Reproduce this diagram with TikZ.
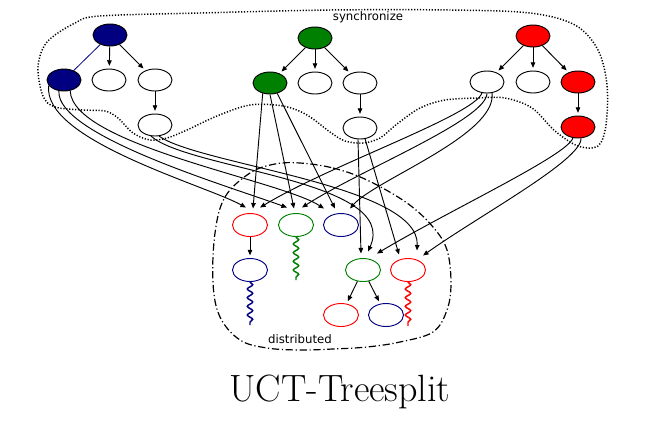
\documentclass[tikz,border=0pt]{standalone}
\usepackage{fontspec}
\newfontfamily\dvs{DejaVu Sans}
\usetikzlibrary{arrows.meta,decorations.pathmorphing,shapes.geometric,calc}
\definecolor{navyc}{RGB}{0,0,128}
\definecolor{greenc}{RGB}{0,128,0}
\definecolor{redc}{RGB}{255,0,0}
\begin{document}
\begin{tikzpicture}[x=0.75pt,y=-0.75pt,
  nd/.style={ellipse,draw,line width=0.7pt,minimum width=25.5pt,minimum height=16.5pt,inner sep=0pt},
  bnd/.style={nd,fill=navyc},
  gnd/.style={nd,fill=greenc},
  rnd/.style={nd,fill=redc},
  bot/.style={ellipse,draw,line width=0.7pt,minimum width=26.25pt,minimum height=17.25pt,inner sep=0pt},
  tip/.style={-{Triangle[length=4.2pt,width=3.4pt]}},
  arr/.style={tip,line width=0.7pt,shorten >=2pt},
  lng/.style={tip,line width=0.7pt},
  snk/.style={decorate,decoration={snake,amplitude=2pt,segment length=6.5pt},line width=1.1pt},
  lbl/.style={font=\dvs\fontsize{8.8}{10}\selectfont,inner sep=0pt}
]
\useasboundingbox (0,0) rectangle (665,437);

% synchronize region
\draw[line width=1.1pt,dash pattern=on 0.9pt off 1.3pt] plot[smooth cycle,tension=0.55] coordinates {
 (100,16) (200,13) (330,10) (450,10) (530,13) (575,25) (598,50) (607,85) (606,125)
 (598,146) (578,146) (555,131) (532,108) (505,98) (477,98) (445,100) (420,108)
 (397,124) (380,138) (363,143) (345,141) (330,132) (307,115) (283,106) (250,105)
 (217,116) (187,130) (167,138) (150,140) (133,133) (118,118) (105,111) (83,110)
 (55,107) (43,96) (38,67) (47,42) (75,23)};
\node[lbl] (sync) at (368,17) {synchronize};

% distributed region
\draw[line width=0.9pt,dash pattern=on 5.5pt off 2pt on 0.9pt off 2pt] plot[smooth cycle,tension=0.6] coordinates {
 (300,163) (333,168) (367,180) (407,203) (433,227) (447,250) (451,283) (447,310)
 (433,332) (400,342) (367,347) (333,349) (300,350) (267,348) (240,340) (220,317)
 (213,283) (215,233) (225,197) (250,173) (275,164)};
\node[lbl] (dist) at (300,339) {distributed};

% top trees
\node[bnd] (br) at (110,35) {};
\node[bnd] (bc) at (64,80) {};
\node[nd] (bw1) at (109,80) {};
\node[nd] (bw2) at (155,80) {};
\node[nd] (bg) at (155,125) {};

\node[gnd] (gr) at (315,38) {};
\node[gnd] (gc) at (270,83) {};
\node[nd] (gw1) at (315,83) {};
\node[nd] (gw2) at (360,83) {};
\node[nd] (gg) at (360,128) {};

\node[rnd] (rr) at (533,36) {};
\node[nd] (rw) at (487,82) {};
\node[nd] (rw2) at (533,82) {};
\node[rnd] (rc) at (578,82) {};
\node[rnd] (rg) at (578,127) {};

\draw[navyc,line width=0.6pt] (br) -- (bc);
\draw[arr] (br) -- (bw1);
\draw[arr] (br) -- (bw2);
\draw[arr] (bw2) -- (bg);
\draw[arr] (gr) -- (gc);
\draw[arr] (gr) -- (gw1);
\draw[arr] (gr) -- (gw2);
\draw[arr] (gw2) -- (gg);
\draw[arr] (rr) -- (rw);
\draw[arr] (rr) -- (rw2);
\draw[arr] (rr) -- (rc);
\draw[arr] (rc) -- (rg);

% bottom nodes
\node[bot,draw=redc] (A1) at (250,225) {};
\node[bot,draw=greenc] (A2) at (296,225) {};
\node[bot,draw=navyc] (A3) at (341,225) {};
\node[bot,draw=navyc] (C1) at (250,270) {};
\node[bot,draw=greenc] (B1) at (363,270) {};
\node[bot,draw=redc] (B2) at (408,270) {};
\node[bot,draw=redc] (D1) at (341,315) {};
\node[bot,draw=navyc] (D2) at (386,315) {};

\draw[arr] (A1) -- (C1);
\draw[arr] (B1) -- (D1);
\draw[arr] (B1) -- (D2);

% snakes
\coordinate (sA2) at (296,280);
\coordinate (sC1) at (250,325);
\coordinate (sB2) at (408,326);
\draw[snk,greenc] (A2.south) -- (sA2);
\draw[snk,navyc] (C1.south) -- (sC1);
\draw[snk,redc] (B2.south) -- (sB2);

% from blue child
\draw[lng] (bc.-160) .. controls (42,140) and (205,185) .. ($(A1.north)+(-4,-5.5)$);
\draw[lng] (bc.-115) .. controls (56,135) and (225,185) .. ($(A2.north)+(-9,-5.5)$);
\draw[lng] (bc.-60) .. controls (72,145) and (280,180) .. ($(A3.north)+(-17,-4.5)$);
% from blue grandchild
\draw[lng] (bg.-110) .. controls (190,170) and (400,180) .. ($(B1.north)+(5,-6.5)$);
\draw[lng] (bg.-70) .. controls (200,165) and (420,185) .. ($(B2.north)+(9,-7.5)$);
% from green child
\draw[lng] (gc.-125) -- ($(A1.north)+(3,-4.5)$);
\draw[lng] (gc.-90) -- ($(A2.north)+(-2,-4.5)$);
\draw[lng] (gc.-55) -- ($(A3.north)+(-6,-4.5)$);
% from green grandchild
\draw[lng] (gg.-100) -- ($(B1.north)+(-2,-4.5)$);
\draw[lng] (gg.-65) -- ($(B2.north)+(-9,-3.5)$);
% from red-tree white child
\draw[lng] (rw.-115) .. controls (475,115) and (330,165) .. ($(A1.north)+(10,-5.5)$);
\draw[lng] (rw.-90) .. controls (486,120) and (360,170) .. ($(A2.north)+(6,-5.5)$);
\draw[lng] (rw.-65) .. controls (497,135) and (375,180) .. ($(A3.north)+(9,-4.5)$);
% from red grandchild
\draw[lng] (rg.-115) .. controls (568,155) and (450,210) .. ($(B1.north)+(14,-4.5)$);
\draw[lng] (rg.-75) .. controls (582,160) and (480,215) .. ($(B2.north)+(15,-2.5)$);

\node[anchor=base,inner sep=0pt,font=\fontsize{28.5}{32}\selectfont] (title) at (340,401) {UCT-Treesplit};
\end{tikzpicture}
\end{document}
